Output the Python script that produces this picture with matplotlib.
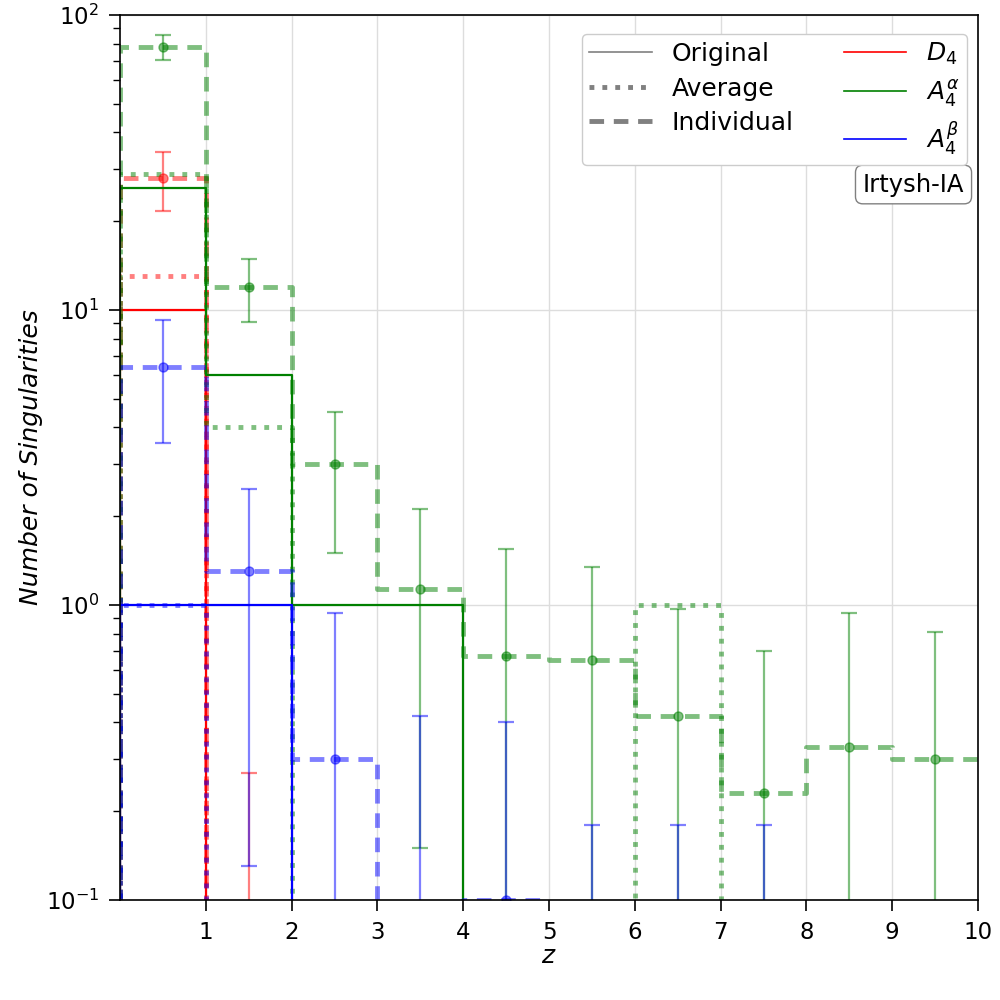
import numpy as np
import matplotlib
matplotlib.use("Agg")
import matplotlib.pyplot as plt
from matplotlib.lines import Line2D

# bin edges in z
edges = [0, 1, 2, 3, 4, 5, 6, 7, 8, 9, 10]
centers = [0.5, 1.5, 2.5, 3.5, 4.5, 5.5, 6.5, 7.5, 8.5, 9.5]

# Original counts
d4_orig = [10, 0, 0, 0, 0, 0, 0, 0, 0, 0]
a4a_orig = [26, 6, 1, 1, 0, 0, 0, 0, 0, 0]
a4b_orig = [1, 1, 0, 0, 0, 0, 0, 0, 0, 0]

# Average counts
d4_avg = [13, 0, 0, 0, 0, 0, 0, 0, 0, 0]
a4a_avg = [29, 4, 0, 0, 0, 0, 1, 0, 0, 0]
a4b_avg = [1, 0, 0, 0, 0, 0, 0, 0, 0, 0]

# Individual mean counts and their errors
d4_ind = [28, 0.07, 0, 0, 0, 0, 0, 0, 0, 0]
d4_err = [6.3, 0.2, 0, 0, 0, 0, 0, 0, 0, 0]
a4a_ind = [78, 12, 3.0, 1.13, 0.67, 0.65, 0.42, 0.23, 0.33, 0.30]
a4a_err = [7.5, 2.9, 1.5, 0.98, 0.88, 0.70, 0.55, 0.47, 0.61, 0.51]
a4b_ind = [6.4, 1.3, 0.30, 0.05, 0.10, 0.03, 0.03, 0.03, 0, 0]
a4b_err = [2.85, 1.17, 0.64, 0.37, 0.30, 0.15, 0.15, 0.15, 0, 0]

series = [
    ("red", d4_orig, d4_avg, d4_ind, d4_err, r"$D_4$"),
    ("green", a4a_orig, a4a_avg, a4a_ind, a4a_err, r"$A_4^{\alpha}$"),
    ("blue", a4b_orig, a4b_avg, a4b_ind, a4b_err, r"$A_4^{\beta}$"),
]

fig = plt.figure(figsize=(10, 10), dpi=100)
ax = fig.add_axes([0.12, 0.1, 0.858, 0.885])
ax.set_yscale("log")


def step_line(vals, **kw):
    # outline rising from the baseline at the first edge, open at the last edge
    xs = [edges[0]] + list(edges)
    ys = [0] + list(vals) + [vals[-1]]
    ax.step(xs, ys, where="post", **kw)


for color, orig, avg, ind, err, lab in series:
    step_line(orig, color=color, lw=1.6, ls="-")
    step_line(avg, color=color, lw=3.5, ls=":", alpha=0.5)
    step_line(ind, color=color, lw=3.5, ls=(0, (3, 2)), alpha=0.5)
    ind_a = np.array(ind, dtype=float)
    err_a = np.array(err, dtype=float)
    m = ind_a > 0
    ax.errorbar(np.array(centers)[m], ind_a[m], yerr=err_a[m], fmt="o", color=color,
                alpha=0.5, capsize=6, elinewidth=1.6, capthick=1.6, markersize=6.5)

ax.set_xlim(0, 10)
ax.set_ylim(0.1, 100)
ax.set_xticks([1, 2, 3, 4, 5, 6, 7, 8, 9, 10])
ax.grid(True, which="major", color="#dddddd", lw=1)
ax.set_axisbelow(True)
ax.tick_params(axis="both", which="major", labelsize=16.5, length=8, width=1.2, pad=7)
ax.tick_params(axis="both", which="minor", length=5, width=1.0)
for s in ax.spines.values():
    s.set_linewidth(1.2)

ax.set_xlabel(r"$z$", fontsize=18, labelpad=0)
ax.set_ylabel("Number of Singularities", fontsize=18, style="italic", labelpad=2)

handles = [
    Line2D([], [], color="gray", lw=1.2, ls="-"),
    Line2D([], [], color="gray", lw=3.5, ls=":"),
    Line2D([], [], color="gray", lw=3.5, ls=(0, (3, 2))),
    Line2D([], [], color="red", lw=1.2),
    Line2D([], [], color="green", lw=1.2),
    Line2D([], [], color="blue", lw=1.2),
]
labels = ["Original", "Average", "Individual", r"$D_4$", r"$A_4^{\alpha}$", r"$A_4^{\beta}$"]
leg = ax.legend(handles, labels, ncol=2, loc="upper right", fontsize=18, framealpha=1,
                handlelength=2.5, handletextpad=0.8, columnspacing=2.0,
                labelspacing=0.42, borderpad=0.3,
                bbox_to_anchor=(0.9872, 0.979), borderaxespad=0)

ax.text(0.984, 0.822, "Irtysh-IA", transform=ax.transAxes, ha="right", va="top",
        fontsize=17.5, bbox=dict(boxstyle="round,pad=0.3", fc="white", ec="gray"))

fig.savefig("out.png", dpi=100)
